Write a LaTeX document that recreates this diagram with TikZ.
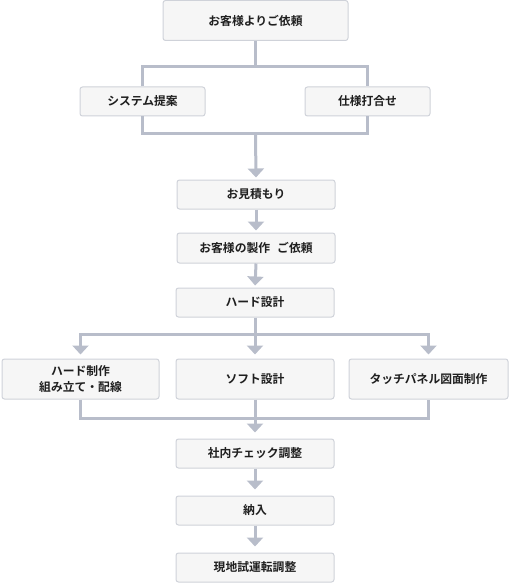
\documentclass[tikz,border=0pt]{standalone}
\usepackage{fontspec}
\setmainfont{Noto Sans CJK JP}[BoldFont={Noto Sans CJK JP Bold}]
\usepackage{tikz}
\usetikzlibrary{arrows.meta}
\definecolor{flowgray}{HTML}{B8BDCA}
\definecolor{boxedge}{HTML}{CFD2D9}
\definecolor{boxfill}{HTML}{F6F6F6}
\tikzstyle{stepbox} = [draw=boxedge, fill=boxfill, line width=1pt,
    rectangle, rounded corners=2.5pt, minimum width=158pt, minimum height=29pt,
    inner sep=0pt, align=center, text=black!88,
    font=\fontsize{11.8}{15.5}\selectfont\bfseries]
\tikzstyle{flow} = [draw=flowgray, line width=3pt]
\tikzstyle{flowarrow} = [flow, -{Triangle[width=16pt,length=9pt]}, shorten >=2pt]

\begin{document}
\begin{tikzpicture}[x=1pt, y=-1pt]
                \useasboundingbox (0,0) rectangle (509,583);
                \node [stepbox, minimum width=185pt, minimum height=40pt] (request) at (255.5,20.5) {お客様よりご依頼};
                \node [stepbox, minimum width=125pt] (system) at (142.5,101.5) {システム提案};
                \node [stepbox, minimum width=125pt] (spec) at (367.5,101.5) {仕様打合せ};
                \node [stepbox] (estimate) at (256,194.5) {お見積もり};
                \node [stepbox, minimum height=30pt] (order) at (256,248) {お客様の製作\hspace{0.6em}ご依頼};
                \node [stepbox] (hard) at (255,302.5) {ハード設計};
                \node [stepbox, minimum width=157pt, minimum height=40pt] (hardmake) at (80.5,379) {ハード制作\\組み立て・配線};
                \node [stepbox, minimum height=40pt] (soft) at (255,379) {ソフト設計};
                \node [stepbox, minimum width=159pt, minimum height=40pt] (touch) at (428.5,379) {タッチパネル図面制作};
                \node [stepbox] (check) at (255,453.5) {社内チェック調整};
                \node [stepbox] (deliver) at (255,510.5) {納入};
                \node [stepbox] (site) at (255,567.5) {現地試運転調整};

                \coordinate (split1) at (255.5,67);
                \coordinate (merge1) at (255.5,133);
                \coordinate (split2) at (255,334);
                \coordinate (merge2) at (255,418);

                \draw [flow] (request.south) -- (split1);
                \draw [flow] (system.north) |- (split1) -| (spec.north);
                \draw [flow] (system.south) |- (merge1) -| (spec.south);
                \draw [flowarrow] (merge1) -- (estimate.north);
                \draw [flowarrow] (estimate.south) -- (order.north);
                \draw [flowarrow] (order.south) -- (hard.north);
                \draw [flow] (hard.south) -- (split2);
                \draw [flowarrow, shorten >=4pt] (split2) -| (hardmake.north);
                \draw [flowarrow, shorten >=4pt] (split2) -- (soft.north);
                \draw [flowarrow, shorten >=4pt] (split2) -| (touch.north);
                \draw [flow] (hardmake.south) |- (merge2) -| (touch.south);
                \draw [flow] (soft.south) -- (merge2);
                \draw [flowarrow, shorten >=6pt] (merge2) -- (check.north);
                \draw [flowarrow, shorten >=6pt] (check.south) -- (deliver.north);
                \draw [flowarrow, shorten >=6pt] (deliver.south) -- (site.north);
            \end{tikzpicture}
\end{document}
